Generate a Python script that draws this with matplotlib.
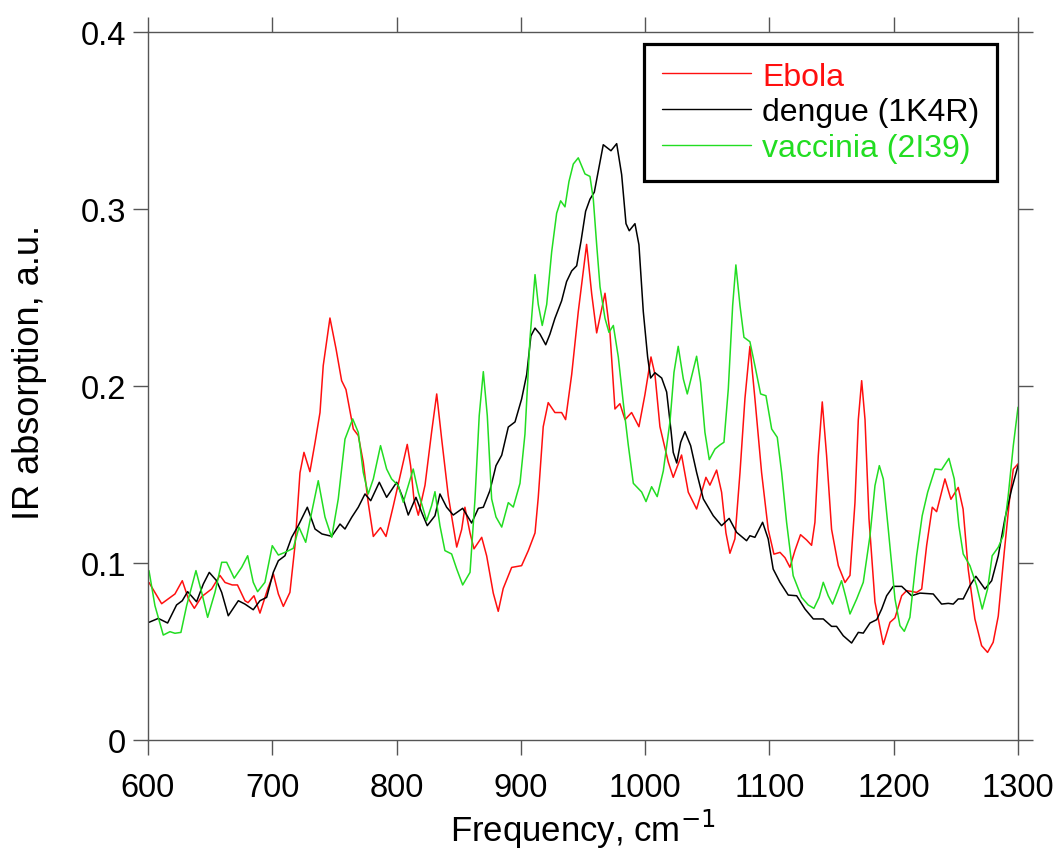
import numpy as np
import matplotlib
matplotlib.use("Agg")
import matplotlib.pyplot as plt
from matplotlib.ticker import MultipleLocator, FuncFormatter

plt.rcParams['font.family'] = ['Liberation Sans', 'DejaVu Sans']

# Ebola
ebola_x = [600.8, 611, 621.7, 627.6, 632.4, 637.3, 643.2, 651.2, 657.9, 662, 667.8, 672, 678, 680.5,
           685.3, 690.1, 696.3, 700.9, 704.9, 708.9, 714.2, 718.3, 722.3, 725.5, 730.3, 734.4, 738.4,
           741, 746.4, 751.3, 755.8, 759.3, 765.2, 769.2, 773.2, 777.2, 781.3, 787.1, 791.5, 797.3,
           804.1, 808.6, 811.3, 814, 817.5, 822.9, 828.2, 832.3, 836.3, 841.6, 848.4, 852.4, 855,
           859.1, 862.3, 868.5, 872.5, 877.8, 881.8, 885.8, 892.6, 900.6, 906, 911.4, 914, 918, 922,
           927.4, 932.8, 936, 940.9, 946.2, 952.9, 957, 961, 967.7, 971.7, 975.7, 979.7, 983.8,
           989.1, 995, 999.8, 1004.7, 1007.9, 1011.9, 1018.6, 1022.6, 1029.3, 1034.7, 1041.4,
           1048.9, 1052.1, 1057.5, 1061.5, 1065, 1068.2, 1072.2, 1076.3, 1080.3, 1084.3, 1088.3,
           1093.7, 1099, 1103.6, 1108.5, 1112.5, 1116.5, 1120.5, 1125, 1129.9, 1133.9, 1136.6,
           1139.3, 1142.5, 1146, 1150, 1155.4, 1160.8, 1164.8, 1168.8, 1171.5, 1174.2, 1176.9,
           1180.1, 1184.9, 1191.6, 1197, 1201, 1206.4, 1210.4, 1218.4, 1222.5, 1226.5, 1231,
           1234.5, 1238.5, 1241.2, 1246, 1251.9, 1255.8, 1259.9, 1265.3, 1270.7, 1275.5, 1280,
           1284.1, 1288.9, 1293.5, 1296.2, 1300]
ebola_y = [0.089, 0.077, 0.0825, 0.090, 0.080, 0.0744, 0.081, 0.0853, 0.093, 0.089, 0.0876, 0.0876,
           0.0787, 0.0776, 0.0815, 0.0717, 0.0853, 0.0938, 0.0825, 0.0755, 0.0834, 0.110, 0.151,
           0.1625, 0.1516, 0.168, 0.185, 0.2115, 0.2384, 0.221, 0.203, 0.198, 0.1757, 0.172, 0.157,
           0.134, 0.115, 0.120, 0.115, 0.132, 0.153, 0.167, 0.155, 0.136, 0.127, 0.144, 0.174,
           0.1955, 0.170, 0.138, 0.109, 0.119, 0.1315, 0.117, 0.108, 0.1145, 0.104, 0.083, 0.0727,
           0.0856, 0.0975, 0.0985, 0.107, 0.117, 0.137, 0.177, 0.1906, 0.185, 0.185, 0.181, 0.2065,
           0.242, 0.280, 0.252, 0.230, 0.2524, 0.230, 0.187, 0.190, 0.181, 0.185, 0.177, 0.195,
           0.2164, 0.2065, 0.177, 0.157, 0.1484, 0.161, 0.140, 0.1305, 0.1484, 0.144, 0.1525, 0.140,
           0.117, 0.1055, 0.1136, 0.151, 0.193, 0.2224, 0.193, 0.151, 0.119, 0.105, 0.106, 0.103,
           0.0976, 0.107, 0.116, 0.113, 0.110, 0.123, 0.1606, 0.191, 0.1606, 0.119, 0.0985, 0.089,
           0.093, 0.134, 0.181, 0.203, 0.181, 0.125, 0.078, 0.054, 0.0665, 0.069, 0.0815, 0.0844,
           0.0834, 0.0853, 0.110, 0.1315, 0.129, 0.140, 0.1475, 0.136, 0.1427, 0.1305, 0.0966,
           0.0684, 0.0533, 0.0495, 0.0552, 0.070, 0.106, 0.138, 0.153, 0.156]

# dengue (1K4R)
dengue_x = [600.8, 608.3, 615.8, 623, 627.6, 631.9, 639.1, 644.5, 649.3, 655.2, 659.3, 664.6, 672.7,
            678, 684.7, 690.1, 695.5, 700.8, 704.9, 710.2, 715.6, 720.9, 728.2, 734.4, 740, 747.8,
            754.5, 758.5, 763.9, 769.2, 774.6, 779.2, 786.1, 792, 800.1, 805.4, 809.4, 815.6, 820.2,
            824.7, 830.9, 834.9, 840.3, 845.6, 853.2, 860.4, 865.8, 869.8, 875.1, 880, 884.6, 889.9,
            895.3, 900.6, 904.7, 908.1, 911.4, 915.4, 920, 923.4, 927.4, 932.8, 936.8, 940.9, 944.9,
            948.4, 952.1, 955.6, 959.1, 962.3, 966.3, 972.5, 977.1, 981.1, 984.6, 987.2, 991.8, 995,
            998.5, 1002, 1004.4, 1007.9, 1013.3, 1017.3, 1020.8, 1022.6, 1025.4, 1028.6, 1032,
            1036.6, 1041.4, 1046.8, 1054.8, 1061.5, 1067.6, 1073.6, 1081.6, 1084.3, 1088.3, 1094.5,
            1099, 1103, 1108.5, 1115.1, 1121.9, 1128.6, 1135.3, 1143.3, 1150, 1154, 1159.4, 1166.1,
            1171.5, 1175.5, 1180.9, 1186.3, 1190.3, 1194.3, 1199.6, 1206.4, 1214.4, 1221.1, 1231.8,
            1238.5, 1243.9, 1247.9, 1251.9, 1255.9, 1261.3, 1266.1, 1273.4, 1278.8, 1284.1, 1289.4,
            1294.9, 1300]
dengue_y = [0.0665, 0.0687, 0.0661, 0.0763, 0.0787, 0.0838, 0.0781, 0.0881, 0.0947, 0.090, 0.0834,
            0.0702, 0.0787, 0.0768, 0.0736, 0.0787, 0.0806, 0.0947, 0.1013, 0.1041, 0.1145, 0.1211,
            0.1315, 0.1192, 0.1164, 0.1151, 0.122, 0.1192, 0.1258, 0.1315, 0.139, 0.1352, 0.1456,
            0.1371, 0.1456, 0.1362, 0.1271, 0.1371, 0.1286, 0.1211, 0.1267, 0.139, 0.1315, 0.1271,
            0.1309, 0.1226, 0.1309, 0.1315, 0.1409, 0.155, 0.1609, 0.1768, 0.1797, 0.1926, 0.2065,
            0.2283, 0.2327, 0.2293, 0.2233, 0.2293, 0.2382, 0.2481, 0.259, 0.265, 0.2679, 0.2818,
            0.2987, 0.3055, 0.3095, 0.3214, 0.3363, 0.3329, 0.3369, 0.3194, 0.2917, 0.2877, 0.2917,
            0.2798, 0.2421, 0.2164, 0.2045, 0.2075, 0.2045, 0.1966, 0.1748, 0.1625, 0.1565, 0.1682,
            0.1742, 0.1663, 0.1512, 0.1362, 0.1267, 0.1211, 0.1252, 0.1173, 0.1126, 0.1154, 0.1145,
            0.123, 0.1136, 0.0966, 0.0891, 0.0819, 0.0815, 0.074, 0.0684, 0.0684, 0.0642, 0.0642,
            0.0589, 0.0548, 0.0608, 0.0604, 0.0661, 0.068, 0.074, 0.0815, 0.0868, 0.0868, 0.0815,
            0.083, 0.0825, 0.0768, 0.0772, 0.0768, 0.0797, 0.0797, 0.0872, 0.0925, 0.0853, 0.090,
            0.1041, 0.1249, 0.1418, 0.155]

# vaccinia (2I39)
vaccinia_x = [600.8, 605.6, 612.3, 617.7, 621.7, 626.5, 631.1, 638.6, 643.2, 648, 653.9, 659.3, 663.3,
              669.4, 675.4, 680.2, 684.7, 688.2, 694.1, 696.8, 700, 704.9, 710.2, 716.9, 721.5,
              726.9, 731.7, 737, 742.4, 747.8, 753.1, 758.5, 764.7, 769.2, 773.2, 777.2, 781.3,
              787.1, 792, 796, 801.4, 805.4, 809.4, 813.4, 817.5, 824.2, 828.2, 830.9, 834.9, 838.9,
              844.3, 848.4, 853.2, 859.1, 863.1, 866.5, 869.8, 873, 876.5, 880, 884.6, 889.9, 893.9,
              899.3, 903.3, 907.3, 911.4, 914, 917.2, 920.8, 924.8, 928.8, 932, 935.5, 938.7, 942.2,
              946.2, 951.6, 955.6, 958.3, 961, 963.7, 967.7, 970.9, 974.4, 978.4, 982.4, 986.4,
              990.5, 994.5, 997.2, 1000.7, 1005.2, 1009.7, 1014.6, 1020, 1023.2, 1026.6, 1030.7,
              1033.9, 1038.2, 1041.4, 1044.6, 1048.1, 1051.6, 1056.2, 1060.2, 1063.4, 1066.9, 1070.4,
              1073, 1076.3, 1079.5, 1084.3, 1088.3, 1092.9, 1097.2, 1101.8, 1106.3, 1109.8, 1113.8,
              1119.1, 1125.9, 1131.2, 1135.8, 1140, 1143.3, 1147.3, 1150.8, 1154.5, 1158, 1161.5,
              1164.8, 1170.2, 1175.5, 1180.9, 1184.9, 1188.4, 1191.6, 1195.6, 1201, 1205, 1208.5,
              1213, 1218.4, 1222.9, 1227.3, 1233.2, 1238.5, 1244.4, 1248.7, 1252.4, 1255.9, 1261.3,
              1266.7, 1271.2, 1275.5, 1279.2, 1284.1, 1288.1, 1292.1, 1296.2, 1300]
vaccinia_y = [0.0957, 0.0759, 0.0593, 0.0612, 0.0603, 0.0608, 0.0759, 0.0957, 0.0834, 0.0693, 0.0834,
              0.1004, 0.1004, 0.0914, 0.0976, 0.1041, 0.0891, 0.0838, 0.0891, 0.0985, 0.1098, 0.1045,
              0.106, 0.1083, 0.1202, 0.1117, 0.1286, 0.1465, 0.126, 0.1145, 0.1362, 0.170, 0.1814,
              0.1738, 0.1512, 0.139, 0.1475, 0.1663, 0.1531, 0.1475, 0.1437, 0.1343, 0.1437, 0.1531,
              0.1399, 0.1239, 0.1324, 0.1403, 0.1211, 0.107, 0.1051, 0.0966, 0.0876, 0.0947, 0.1362,
              0.1832, 0.2081, 0.1832, 0.1362, 0.126, 0.1203, 0.1341, 0.1316, 0.145, 0.1728, 0.2263,
              0.2629, 0.2461, 0.2342, 0.2461, 0.2758, 0.2976, 0.3046, 0.3012, 0.3155, 0.3254, 0.3289,
              0.3198, 0.3184, 0.3055, 0.2798, 0.256, 0.2382, 0.2303, 0.2342, 0.2164, 0.1906, 0.1668,
              0.145, 0.1421, 0.1401, 0.1347, 0.1431, 0.1375, 0.152, 0.180, 0.2077, 0.2224, 0.204,
              0.1955, 0.2077, 0.2168, 0.2021, 0.1738, 0.1584, 0.1644, 0.1667, 0.1682, 0.1983, 0.2454,
              0.2684, 0.2454, 0.2275, 0.225, 0.2115, 0.1955, 0.1945, 0.1757, 0.171, 0.1512, 0.123,
              0.0928, 0.0806, 0.0763, 0.0744, 0.0806, 0.0891, 0.0815, 0.0768, 0.0834, 0.090, 0.0806,
              0.0712, 0.0797, 0.0891, 0.1154, 0.1437, 0.155, 0.1475, 0.1192, 0.0797, 0.0646, 0.0614,
              0.0693, 0.1041, 0.1267, 0.140, 0.1531, 0.1527, 0.1591, 0.1475, 0.1211, 0.1051, 0.0985,
              0.0872, 0.074, 0.0853, 0.1041, 0.1089, 0.1154, 0.138, 0.1663, 0.188]

fig = plt.figure(figsize=(10.6, 8.54), dpi=100)
ax = fig.add_axes([0.1396, 0.1323, 0.8208, 0.8291])

line_kw = dict(lw=1.1, solid_joinstyle='round', solid_capstyle='round')
ax.plot(ebola_x, ebola_y, color='#ff0f0f', label='Ebola', **line_kw)
ax.plot(dengue_x, dengue_y, color='black', label='dengue (1K4R)', **line_kw)
ax.plot(vaccinia_x, vaccinia_y, color='#22dd22', label='vaccinia (2I39)', **line_kw)

ax.set_xlim(600, 1300)
ax.set_ylim(0, 0.4)
ax.xaxis.set_major_locator(MultipleLocator(100))
ax.yaxis.set_major_locator(MultipleLocator(0.1))
ax.yaxis.set_major_formatter(FuncFormatter(lambda v, p: '0' if abs(v) < 1e-9 else '%.1f' % v))

for s in ax.spines.values():
    s.set_color('#555555')
    s.set_linewidth(1.0)
ax.tick_params(direction='out', length=11, width=1.0, color='#555555',
               top=True, right=True, labelsize=23.5)
ax.tick_params(axis='x', pad=12)
ax.tick_params(axis='y', pad=5)

ax.set_xlabel('Frequency, cm$^{-1}$', fontsize=25, labelpad=3)
ax.set_ylabel('IR absorption, a.u.', fontsize=26)
ax.yaxis.set_label_coords(-0.116, 0.52)

leg = ax.legend(loc='upper right', bbox_to_anchor=(0.976, 0.983), borderaxespad=0,
                fontsize=23, handlelength=2.8, handletextpad=0.35, labelspacing=0.18,
                borderpad=0.55, fancybox=False, labelcolor='linecolor')
leg.get_frame().set_edgecolor('black')
leg.get_frame().set_linewidth(2.3)
leg.get_frame().set_alpha(1)
for h in leg.get_lines():
    h.set_linewidth(1.0)

fig.savefig('out.png', dpi=100)
